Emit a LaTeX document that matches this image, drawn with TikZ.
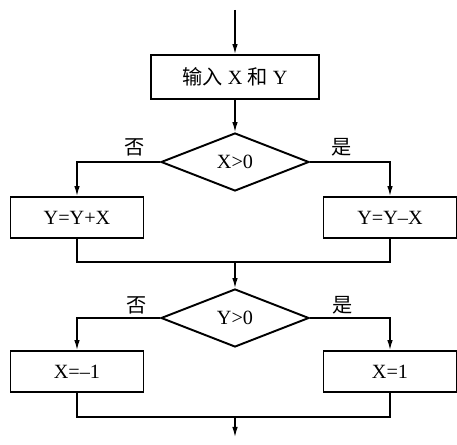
\documentclass[tikz,border=0pt]{standalone}
\usepackage{fontspec}
\setmainfont{Liberation Serif}
\newfontfamily\cjk{Noto Sans CJK SC}
\usepackage{tikz}
\usetikzlibrary{positioning,arrows.meta,calc,shapes.geometric}
\newcommand{\figfont}{\fontsize{11.5}{13}\selectfont}
\tikzset{
  box/.style   ={draw=black, line width=1.1pt, fill=white,
                 align=center, inner sep=2pt, font=\figfont},
  cond/.style  ={draw=black, line width=1.1pt, fill=white, diamond,
                 inner sep=0pt, minimum width=2.96cm, minimum height=1.16cm,
                 font=\figfont},
  ar/.style    ={-{Latex[length=2mm,width=1.1mm]}, draw=black,
                 line width=0.7pt},
  ln/.style    ={draw=black, line width=0.7pt},
  tag/.style   ={font=\figfont, inner sep=1pt}
}

\begin{document}
\begin{tikzpicture}[x=0.02cm, y=-0.02cm,
  sbox/.style={box, minimum width=2.66cm, minimum height=0.82cm}]
\useasboundingbox (0,0) rectangle (457,445);
\coordinate (top) at (235,10);
\node[box, minimum width=3.36cm, minimum height=0.88cm] (in) at (235,77)
  {{\cjk 输入} X {\cjk 和} Y};
\node[cond] (c1) at (235,162) {X>0};
\node[sbox] (n1) at (77,217.5) {Y=Y+X};
\node[sbox] (y1) at (390,217.5) {Y=Y–X};
\node[cond] (c2) at (235,318) {Y>0};
\node[sbox] (n2) at (77,371.5) {X=–1};
\node[sbox] (y2) at (390,371.5) {X=1};
\coordinate (m1) at (235,262);
\coordinate (m2) at (235,417);
\coordinate (end) at (235,437);

\node[tag] (no1)  at (135,147) {\cjk 否};
\node[tag] (yes1) at (342,147) {\cjk 是};
\node[tag] (no2)  at (137,305) {\cjk 否};
\node[tag] (yes2) at (343,305) {\cjk 是};

\draw[ar] (top) -- (in);
\draw[ar] (in) -- (c1);
\draw[ar] (c1.west) -| (n1.north);
\draw[ar] (c1.east) -| (y1.north);
\draw[ln] (n1.south) |- (m1) -| (y1.south);
\draw[ar] (m1) -- (c2);
\draw[ar] (c2.west) -| (n2.north);
\draw[ar] (c2.east) -| (y2.north);
\draw[ln] (n2.south) |- (m2) -| (y2.south);
\draw[ar] (m2) -- (end);
\end{tikzpicture}
\end{document}
